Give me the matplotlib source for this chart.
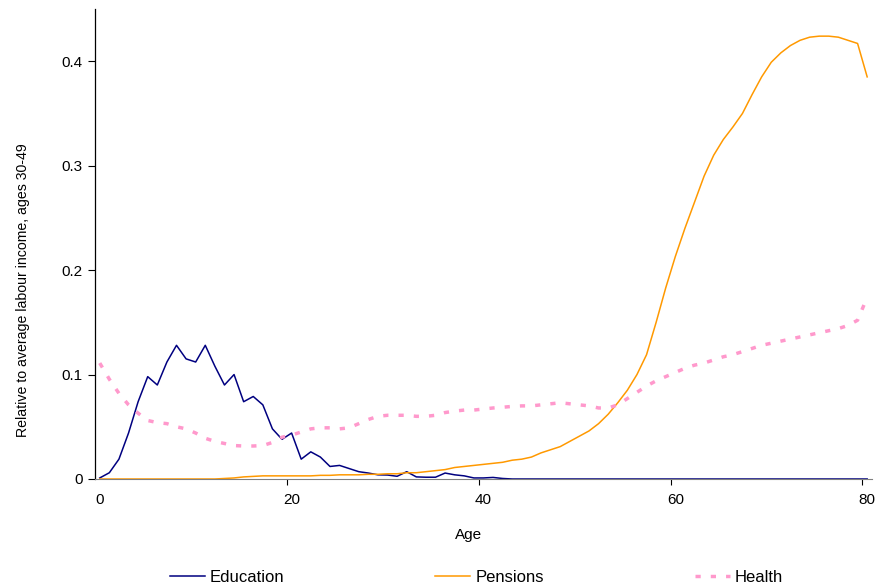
import numpy as np
import matplotlib.pyplot as plt
from matplotlib.ticker import FixedLocator

plt.rcParams['font.family'] = ['Liberation Sans', 'DejaVu Sans']

#%% Profiles by single year of age, relative to average labour income (ages 30-49)

ages = np.arange(0, 81)

education = [0.001, 0.006, 0.019, 0.044, 0.074, 0.098, 0.090, 0.112, 0.128, 0.115,
             0.112, 0.128, 0.108, 0.090, 0.100, 0.074, 0.079, 0.071, 0.048, 0.038,
             0.044, 0.019, 0.026, 0.021, 0.012, 0.013, 0.010, 0.007, 0.0057, 0.004,
             0.0038, 0.0026, 0.007, 0.002, 0.0017, 0.0017, 0.0057, 0.004, 0.003, 0.001,
             0.001, 0.0015, 0.0005] + [0.0] * 38

pensions = [0.0] * 13 + [0.0005, 0.001, 0.002, 0.0025, 0.003, 0.003, 0.003,
            0.003, 0.003, 0.003, 0.0035, 0.0035, 0.004, 0.004, 0.004, 0.0045, 0.0045,
            0.005, 0.005, 0.006, 0.006, 0.007, 0.008, 0.009, 0.011, 0.012, 0.013,
            0.014, 0.015, 0.016, 0.018, 0.019, 0.021, 0.025, 0.028, 0.031, 0.036,
            0.041, 0.046, 0.053, 0.062, 0.073, 0.085, 0.100, 0.119, 0.150, 0.183,
            0.213, 0.240, 0.265, 0.290, 0.310, 0.325, 0.337, 0.350, 0.368, 0.385,
            0.399, 0.408, 0.415, 0.420, 0.423, 0.424, 0.424, 0.423, 0.420, 0.417,
            0.385]

health = [0.111, 0.0955, 0.082, 0.071, 0.063, 0.056, 0.054, 0.053, 0.050, 0.048,
          0.044, 0.039, 0.036, 0.034, 0.032, 0.0316, 0.0316, 0.032, 0.035, 0.040,
          0.042, 0.045, 0.048, 0.049, 0.049, 0.048, 0.049, 0.053, 0.057, 0.060,
          0.061, 0.061, 0.061, 0.060, 0.060, 0.061, 0.0636, 0.065, 0.066, 0.066,
          0.067, 0.068, 0.0687, 0.0695, 0.070, 0.070, 0.071, 0.072, 0.073, 0.072,
          0.071, 0.070, 0.068, 0.068, 0.071, 0.077, 0.083, 0.089, 0.094, 0.098,
          0.102, 0.106, 0.109, 0.111, 0.114, 0.117, 0.119, 0.122, 0.125, 0.128,
          0.130, 0.132, 0.134, 0.136, 0.138, 0.140, 0.142, 0.144, 0.147, 0.152,
          0.174]

#%% Plot

fig = plt.figure(figsize=(8.76, 5.84), dpi=100)
ax = fig.add_axes([0.1084, 0.1798, 0.887, 0.8048])

ax.plot(ages, education, color='#000080', lw=1.1, label='Education')
ax.plot(ages, pensions, color='#FF9900', lw=1.1, label='Pensions')
ax.plot(ages, health, color='#FF99CC', lw=2.5, linestyle=(0, (1.5, 2.9)),
        label='Health')

ax.set_xlim(-0.5, 80.5)
ax.set_ylim(0, 0.45)

# category-style axis: labels at the ages, tick marks between categories
ax.set_xticks([0, 20, 40, 60, 80])
ax.xaxis.set_minor_locator(FixedLocator([19.5, 39.5, 59.5, 79.5]))
ax.tick_params(axis='x', which='major', length=0, pad=10, labelsize=11)
ax.tick_params(axis='x', which='minor', length=4, width=0.8, color='black')
ax.set_yticks([0, 0.1, 0.2, 0.3, 0.4])
ax.set_yticklabels(['0', '0.1', '0.2', '0.3', '0.4'])
ax.tick_params(axis='y', length=5, width=0.8, labelsize=11, pad=4)

ax.spines['top'].set_visible(False)
ax.spines['right'].set_visible(False)
ax.spines['bottom'].set_color('#808080')
ax.spines['left'].set_linewidth(0.9)

ax.set_xlabel('Age', fontsize=11)
ax.xaxis.set_label_coords(0.481, -0.104)
ax.set_ylabel('Relative to average labour income, ages 30-49', fontsize=10.2)
ax.yaxis.set_label_coords(-0.083, 0.402)

fig.legend(loc='center', bbox_to_anchor=(0.544, 0.011), ncol=3, frameon=False,
           fontsize=12, handlelength=2.1, handletextpad=0.3, columnspacing=9.05)

plt.savefig('out.png', dpi=100)
